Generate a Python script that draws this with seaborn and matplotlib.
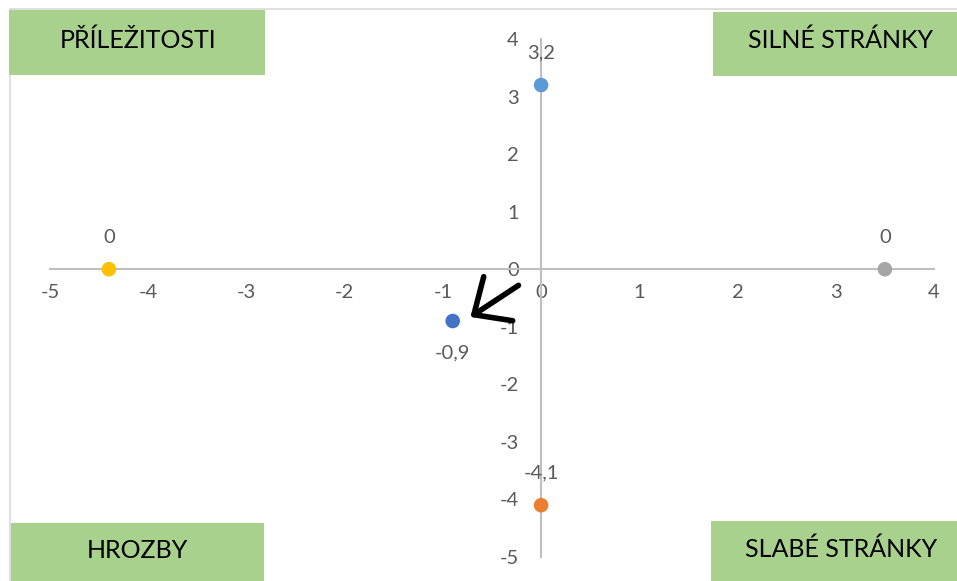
#!/usr/bin/env python3
"""SWOT scatter chart recreated with seaborn."""

import matplotlib
matplotlib.use('Agg')
import matplotlib.pyplot as plt
from matplotlib.patches import Rectangle
import seaborn as sns
import pandas as pd

# data
point_names = ['Silné stránky', 'Slabé stránky', 'Příležitosti', 'Hrozby', 'Výsledek']
x_values = [0.0, 0.0, -4.4, 3.5, -0.9]
y_values = [3.2, -4.1, 0.0, 0.0, -0.9]
point_colors = ['#5B9BD5', '#ED7D31', '#FFC000', '#A5A5A5', '#4472C4']
label_above = [True, True, True, True, False]

x_ticks = [-5, -4, -3, -2, -1, 0, 1, 2, 3, 4]
y_ticks = [-5, -4, -3, -2, -1, 0, 1, 2, 3, 4]

box_texts = ['PŘÍLEŽITOSTI', 'SILNÉ STRÁNKY', 'HROZBY', 'SLABÉ STRÁNKY']
# box extents in pixels: left, top, right, bottom, and text centre
box_pixels = [(9, 10, 265, 75), (713, 12, 957, 76), (11, 523, 264, 581), (711, 521, 957, 581)]
box_text_centres = [(138, 40), (841, 40), (137, 550), (841, 549)]

arrow_tail = (-0.23, -0.28)
arrow_tip = (-0.72, -0.83)

W, H = 957, 581

df = pd.DataFrame({'name': point_names, 'x': x_values, 'y': y_values})

sns.set_style('white')
plt.rcParams['font.family'] = ['Lato', 'DejaVu Sans']

fig = plt.figure(figsize=(W / 100, H / 100), dpi=100)
fig.patch.set_facecolor('white')

# chart frame
fig.patches.append(Rectangle((10 / W, -0.1), 1.2, 1 - 9 / H + 0.1, transform=fig.transFigure,
                             facecolor='none', edgecolor='#D9D9D9', linewidth=1.2, zorder=0))

ax = fig.add_axes([50 / W, (H - 557) / H, 884 / W, 518 / H])
ax.set_facecolor('none')

sns.scatterplot(data=df, x='x', y='y', hue='name', palette=point_colors, s=110,
                edgecolor='none', legend=False, ax=ax, zorder=5, clip_on=False)

ax.set_xlim(-5, 4)
ax.set_ylim(-5, 4)
ax.set_xticks(x_ticks)
ax.set_yticks(y_ticks)
ax.set_xticklabels([str(t) for t in x_ticks])
ax.set_yticklabels([str(t) for t in y_ticks])
ax.set_xlabel('')
ax.set_ylabel('')

for side in ['top', 'right']:
    ax.spines[side].set_visible(False)
ax.spines['left'].set_position(('data', 0))
ax.spines['bottom'].set_position(('data', 0))
for side in ['left', 'bottom']:
    ax.spines[side].set_color('#BFBFBF')
    ax.spines[side].set_linewidth(1.5)
ax.tick_params(axis='x', length=0, pad=11, labelsize=14.5, labelcolor='#595959')
ax.tick_params(axis='y', length=0, pad=16, labelsize=14.5, labelcolor='#595959')
ax.grid(False)

# data labels (Czech decimal comma)
for xv, yv, above in zip(x_values, y_values, label_above):
    txt = f'{yv:g}'.replace('.', ',')
    ax.annotate(txt, (xv, yv), xytext=(0, 23 if above else -23), textcoords='offset points',
                ha='center', va='center', fontsize=14.5, color='#595959', zorder=6)

# arrow
ax.annotate('', xy=arrow_tip, xytext=arrow_tail,
            arrowprops=dict(arrowstyle='->, head_length=1.05, head_width=0.95',
                            color='black', lw=4, mutation_scale=20, shrinkA=0, shrinkB=0),
            zorder=7)

# green corner boxes
for text, (l, t, r, b), (cx, cy) in zip(box_texts, box_pixels, box_text_centres):
    fig.patches.append(Rectangle((l / W, (H - b) / H), (r - l) / W, (b - t) / H,
                                 transform=fig.transFigure, facecolor='#A9D18E',
                                 edgecolor='none', zorder=1))
    fig.text(cx / W, (H - cy) / H, text, ha='center', va='center', fontsize=18,
             color='black', zorder=2)

plt.savefig('out.png', dpi=100, facecolor='white')
